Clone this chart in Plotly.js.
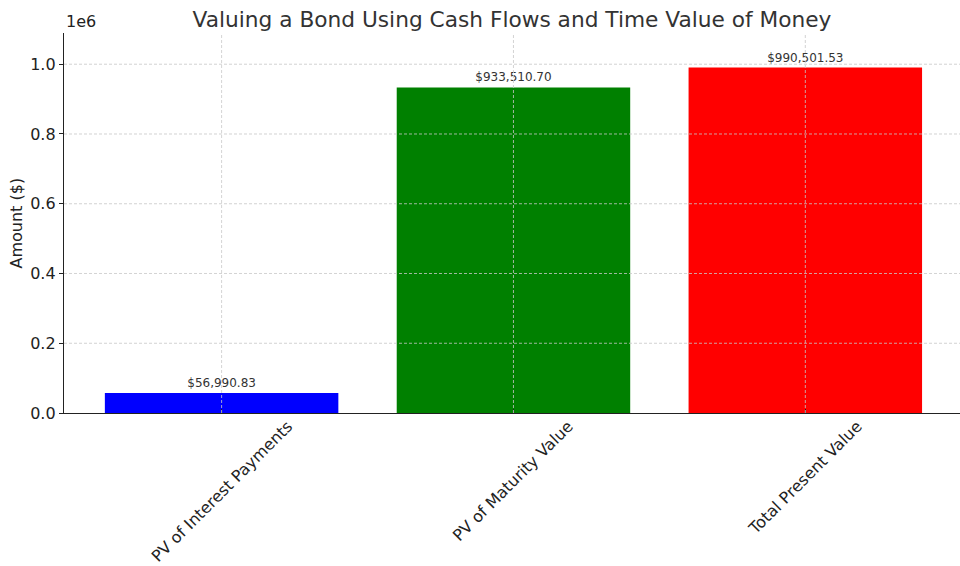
<!DOCTYPE html>
<html>
<head>
<meta charset="utf-8">
<script src="https://cdn.plot.ly/plotly-3.0.1.min.js"></script>
<style>html,body{margin:0;padding:0;background:#fff;}#chart{width:960px;height:566px;}</style>
</head>
<body>
<div id="chart"></div>
<script>
const categories = ["PV of Interest Payments", "PV of Maturity Value", "Total Present Value"];
const amounts = [56990.83, 933510.70, 990501.53];
const barColors = ["blue", "green", "red"];
const yTickVals = [0, 200000, 400000, 600000, 800000, 1000000];
const yTickText = ["0.0", "0.2", "0.4", "0.6", "0.8", "1.0"];
const barLabels = amounts.map(v => "$" + v.toLocaleString("en-US", {minimumFractionDigits: 2, maximumFractionDigits: 2}));
const xPositions = categories.map((c, i) => i);

const font = "DejaVu Sans, sans-serif";
const gridStyle = {color: "#c8c8c8", width: 0.8, dash: "3px,2px"};

const trace = {
  type: "bar",
  x: xPositions,
  y: amounts,
  width: 0.8,
  marker: {color: barColors, line: {width: 0}},
  text: barLabels,
  textposition: "outside",
  textfont: {family: font, size: 12, color: "#333333"},
  cliponaxis: false,
  hoverinfo: "skip"
};

const shapes = [];
yTickVals.forEach(v => {
  if (v === 0) return;
  shapes.push({type: "line", xref: "paper", yref: "y", x0: 0, x1: 1, y0: v, y1: v, line: gridStyle, layer: "above"});
});
xPositions.forEach(v => {
  shapes.push({type: "line", xref: "x", yref: "paper", x0: v, x1: v, y0: 0, y1: 1, line: gridStyle, layer: "above"});
});

const annotations = [{
  text: "1e6", xref: "paper", yref: "paper", x: 0, y: 1, xanchor: "left", yanchor: "bottom",
  showarrow: false, font: {family: font, size: 16, color: "#222"}, yshift: 0
}, {
  text: "Amount ($)", xref: "paper", yref: "paper", x: 0, y: 0.5, xanchor: "right", yanchor: "middle",
  xshift: -37, textangle: -90, showarrow: false, font: {family: font, size: 16, color: "#222"}
}];
categories.forEach((c, i) => {
  annotations.push({
    text: c, xref: "x", yref: "paper", x: xPositions[i], y: 0, xanchor: "center", yanchor: "top",
    yshift: -1, textangle: -45, showarrow: false, font: {family: font, size: 16, color: "#222"}
  });
});

const layout = {
  width: 960, height: 566,
  margin: {l: 64, r: 0, t: 33, b: 153},
  paper_bgcolor: "#fff", plot_bgcolor: "#fff",
  font: {family: font, color: "#222"},
  title: {text: "Valuing a Bond Using Cash Flows and Time Value of Money",
          font: {family: font, size: 21.7, color: "#333"},
          x: 0.5, xref: "paper", xanchor: "center", yref: "paper", y: 1, yanchor: "bottom", pad: {b: 6}},
  xaxis: {
    range: [-0.54, 2.53],
    tickvals: xPositions, ticktext: categories.map(() => ""),
    showgrid: false,
    ticks: "inside", ticklen: 4, tickcolor: "#222",
    showline: true, linecolor: "#222", linewidth: 1.2,
    zeroline: false, fixedrange: true
  },
  yaxis: {
    range: [0, 1089551.7],
    tickvals: yTickVals, ticktext: yTickText,
    tickfont: {family: font, size: 16, color: "#222"},
    showgrid: false,
    ticks: "outside", ticklen: 4, tickcolor: "#222",
    showline: true, linecolor: "#222", linewidth: 1.2,
    zeroline: false, fixedrange: true
  },
  shapes: shapes,
  annotations: annotations,
  showlegend: false
};

Plotly.newPlot("chart", [trace], layout, {displayModeBar: false, staticPlot: true});
</script>
</body>
</html>
